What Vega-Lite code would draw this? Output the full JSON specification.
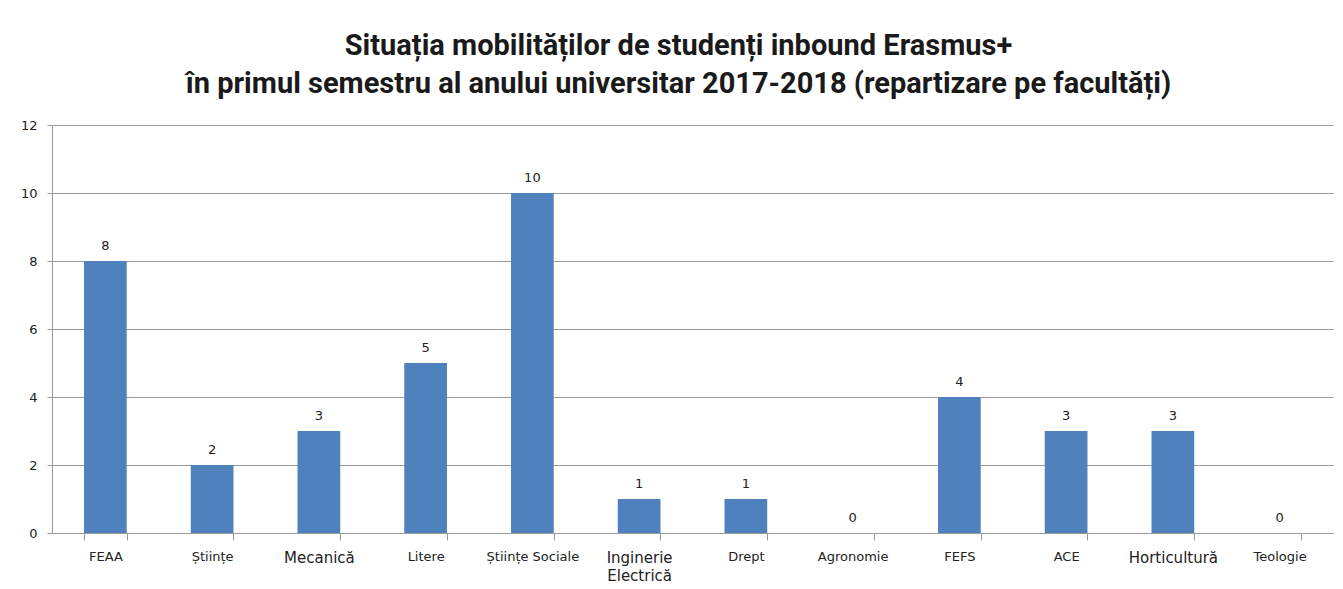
{
  "$schema": "https://vega.github.io/schema/vega-lite/v6.json",
  "width": 1281,
  "height": 408,
  "autosize": {"type": "none"},
  "padding": {"left": 52, "top": 125, "right": 10, "bottom": 56},
  "background": "white",
  "title": {
    "text": ["Situația mobilităților de studenți inbound Erasmus+", "în primul semestru al anului universitar 2017-2018 (repartizare pe facultăți)"],
    "font": "Roboto, sans-serif",
    "fontSize": 29,
    "fontWeight": "bold",
    "color": "#1a1a1a",
    "lineHeight": 38,
    "anchor": "middle",
    "offset": 20,
    "dx": -14
  },
  "data": {
    "values": [
      {"facultate": "FEAA", "studenti": 8},
      {"facultate": "Științe", "studenti": 2},
      {"facultate": "Mecanică", "studenti": 3},
      {"facultate": "Litere", "studenti": 5},
      {"facultate": "Științe Sociale", "studenti": 10},
      {"facultate": "Inginerie Electrică", "studenti": 1},
      {"facultate": "Drept", "studenti": 1},
      {"facultate": "Agronomie", "studenti": 0},
      {"facultate": "FEFS", "studenti": 4},
      {"facultate": "ACE", "studenti": 3},
      {"facultate": "Horticultură", "studenti": 3},
      {"facultate": "Teologie", "studenti": 0}
    ]
  },
  "encoding": {
    "x": {
      "field": "facultate",
      "type": "nominal",
      "sort": null,
      "scale": {"paddingInner": 0.6, "paddingOuter": 0.3},
      "axis": {
        "title": null,
        "labelAngle": 0,
        "labelFont": "DejaVu Sans",
        "labelFontSize": {"expr": "datum.value == 'Mecanică' || datum.value == 'Horticultură' || datum.value == 'Inginerie Electrică' ? 15 : 13"},
        "labelColor": "#222222",
        "labelPadding": 10,
        "labelExpr": "datum.value == 'Inginerie Electrică' ? ['Inginerie', 'Electrică'] : datum.value",
        "labelLineHeight": 18,
        "tickBand": "extent",
        "tickSize": 7,
        "tickColor": "#9a9a9a",
        "domainColor": "#9a9a9a",
        "grid": false
      }
    },
    "y": {
      "field": "studenti",
      "type": "quantitative",
      "scale": {"domain": [0, 12]},
      "axis": {
        "title": null,
        "values": [0, 2, 4, 6, 8, 10, 12],
        "labelFont": "DejaVu Sans",
        "labelFontSize": 13,
        "labelColor": "#222222",
        "labelPadding": 10,
        "tickSize": 5,
        "tickColor": "#9a9a9a",
        "domainColor": "#9a9a9a",
        "gridColor": "#9a9a9a",
        "gridWidth": 1
      }
    }
  },
  "layer": [
    {"mark": {"type": "bar", "color": "#4F81BD"}},
    {
      "mark": {"type": "text", "baseline": "bottom", "dy": -8, "font": "DejaVu Sans", "fontSize": 13, "color": "#222222"},
      "encoding": {"text": {"field": "studenti", "type": "quantitative"}}
    }
  ],
  "config": {"view": {"stroke": null}}
}
